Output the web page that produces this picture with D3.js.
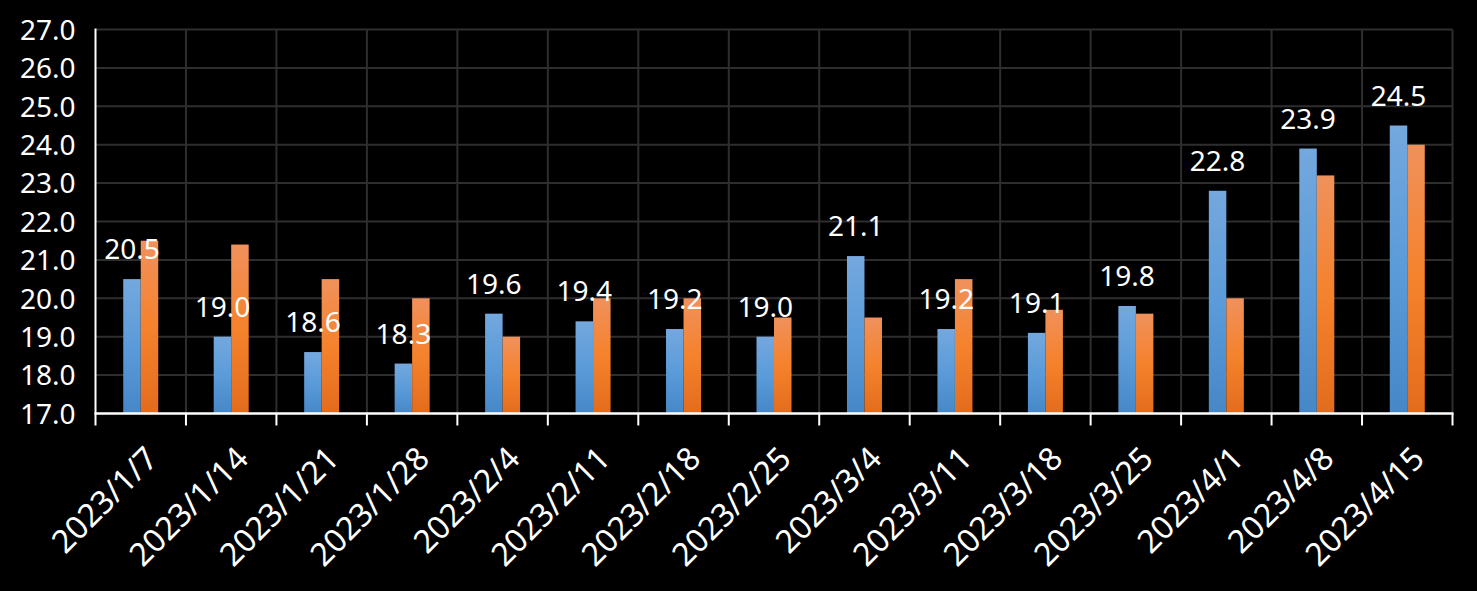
<!DOCTYPE html>
<html><head><meta charset="utf-8">
<script src="https://cdnjs.cloudflare.com/ajax/libs/d3/7.8.5/d3.min.js"></script>
<style>html,body{margin:0;padding:0;background:#000;}svg{display:block;}</style>
</head><body><svg id="c" width="1477" height="591"></svg>
<script>
const categories = ["2023/1/7","2023/1/14","2023/1/21","2023/1/28","2023/2/4","2023/2/11","2023/2/18","2023/2/25","2023/3/4","2023/3/11","2023/3/18","2023/3/25","2023/4/1","2023/4/8","2023/4/15"];
const seriesA = [20.5,19.0,18.6,18.3,19.6,19.4,19.2,19.0,21.1,19.2,19.1,19.8,22.8,23.9,24.5];
const seriesB = [21.5,21.4,20.5,20.0,19.0,20.0,20.0,19.5,19.5,20.5,19.7,19.6,20.0,23.2,24.0];
const yTicks = [17,18,19,20,21,22,23,24,25,26,27];

const svg = d3.select("#c");
const L = 95.5, R = 1452.5, T = 29.5, B = 413.5;
const font = "'Noto Sans', 'Open Sans', sans-serif";

const defs = svg.append("defs");
function grad(id, stops){
  const g = defs.append("linearGradient").attr("id", id).attr("x1",0).attr("y1",0).attr("x2",0).attr("y2",1);
  stops.forEach(s => g.append("stop").attr("offset", s[0]).attr("stop-color", s[1]));
}
grad("gA", [[0,"#74a8de"],[0.5,"#5b9bd9"],[1,"#4687c8"]]);
grad("gB", [[0,"#f0915c"],[0.5,"#f5822c"],[1,"#e36c1c"]]);

const x = d3.scaleBand().domain(categories).range([L, R]).paddingInner(0).paddingOuter(0);
const y = d3.scaleLinear().domain([17, 27]).range([B, T]);
const barW = 17.5;

// gridlines
svg.append("g").selectAll("line").data(yTicks.slice(1)).join("line")
  .attr("x1", L).attr("x2", R).attr("y1", d => y(d)).attr("y2", d => y(d))
  .attr("stroke", "#2e2e2e").attr("stroke-width", 2);
const bounds = d3.range(categories.length + 1).map(i => L + i * x.bandwidth());
svg.append("g").selectAll("line").data(bounds.slice(1)).join("line")
  .attr("x1", d => d).attr("x2", d => d)
  .attr("y1", T).attr("y2", B)
  .attr("stroke", "#2e2e2e").attr("stroke-width", 2);

// bars
const gBars = svg.append("g");
gBars.selectAll("rect.a").data(seriesA).join("rect").attr("class","a")
  .attr("x", (d,i) => x(categories[i]) + x.bandwidth()/2 - barW)
  .attr("width", barW).attr("y", d => y(d)).attr("height", d => y(17) - y(d))
  .attr("fill", "url(#gA)");
gBars.selectAll("rect.b").data(seriesB).join("rect").attr("class","b")
  .attr("x", (d,i) => x(categories[i]) + x.bandwidth()/2)
  .attr("width", barW).attr("y", d => y(d)).attr("height", d => y(17) - y(d))
  .attr("fill", "url(#gB)");

// value labels
svg.append("g").selectAll("text").data(seriesA).join("text")
  .attr("x", (d,i) => x(categories[i]) + x.bandwidth()/2 - barW/2)
  .attr("y", d => y(d) - 20)
  .attr("text-anchor", "middle").attr("fill", "#fff")
  .attr("font-family", font).attr("font-size", 28)
  .text(d => d.toFixed(1));

// axes lines
svg.append("line").attr("x1", L).attr("x2", L).attr("y1", T - 1).attr("y2", B).attr("stroke", "#fff").attr("stroke-width", 2);
const xAxis = d3.axisBottom(x).tickSize(0).tickFormat("");
const gx = svg.append("g").attr("transform", `translate(0,${B})`).call(xAxis);
gx.select(".domain").attr("stroke", "#fff").attr("stroke-width", 2.5).attr("d", `M${L-1},0H${R+1}`);
gx.selectAll("line.tm").data(bounds).join("line").attr("class","tm")
  .attr("x1", d => d).attr("x2", d => d).attr("y1", 0).attr("y2", 12)
  .attr("stroke", "#fff").attr("stroke-width", 2);

// x labels
svg.append("g").selectAll("text").data(categories).join("text")
  .attr("transform", d => `translate(${x(d) + x.bandwidth()/2 + 19},${B + 47}) rotate(-45)`)
  .attr("text-anchor", "end")
  .attr("fill", "#fff").attr("font-family", font).attr("font-size", 32)
  .text(d => d);

// y labels
const yAxis = d3.axisLeft(y).tickValues(yTicks).tickSize(0).tickFormat(d => d.toFixed(1));
const gy = svg.append("g").attr("transform", `translate(${L},0)`).call(yAxis);
gy.select(".domain").remove();
gy.selectAll("text").attr("x", -20).attr("fill", "#fff").attr("font-family", font).attr("font-size", 28).attr("dy", "0.35em");
</script></body></html>
